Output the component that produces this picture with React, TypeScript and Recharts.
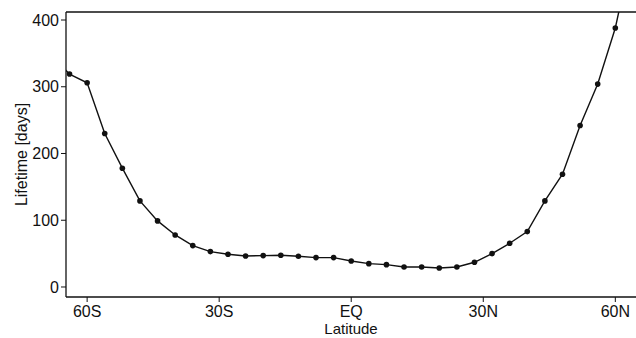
import { Label, Line, LineChart, ReferenceLine, XAxis, YAxis } from 'recharts'

// latitude in degrees, south negative
const latitudes = [
	-68, -64, -60, -56, -52, -48, -44, -40, -36, -32, -28, -24, -20, -16, -12, -8, -4, 0, 4, 8, 12, 16,
	20, 24, 28, 32, 36, 40, 44, 48, 52, 56, 60, 64,
]
const lifetimes = [
	345, 319, 306, 230, 178, 129, 99, 78, 62, 53, 49, 46.5, 47, 47.5, 46, 44, 44, 39, 35, 33.5, 30,
	30, 28.5, 30, 37, 50, 65.5, 83, 129, 169, 242, 304, 388, 510,
]
const latTicks = [-60, -30, 0, 30, 60]
const latTickLabels = ['60S', '30S', 'EQ', '30N', '60N']
const lifeTicks = [0, 100, 200, 300, 400]

const data = latitudes.map((lat, i) => ({ lat, life: lifetimes[i] }))

const font = '"Liberation Sans", Arial, Helvetica, sans-serif'
const tickStyle = { fill: '#111', fontSize: 16, fontFamily: font }

export default function App() {
	return (
		<div style={{ position: 'fixed', left: 0, top: 0, background: '#fff' }}>
			<LineChart
				data={data}
				height={338}
				margin={{ top: 12, right: 0, bottom: 0, left: 0 }}
				width={636}
			>
				<XAxis
					allowDataOverflow
					axisLine={{ stroke: '#111', strokeWidth: 1.3 }}
					dataKey="lat"
					domain={[-64.8, 64.7]}
					height={41}
					tick={tickStyle}
					tickFormatter={(v: number) => latTickLabels[latTicks.indexOf(v)] ?? ''}
					tickLine={{ stroke: '#111' }}
					tickMargin={4}
					tickSize={5}
					ticks={latTicks}
					type="number"
				>
					<Label
						fill="#111"
						fontFamily={font}
						fontSize={15}
						offset={4}
						position="insideBottom"
						value="Latitude"
					/>
				</XAxis>
				<YAxis
					allowDataOverflow
					axisLine={{ stroke: '#111', strokeWidth: 1.3 }}
					domain={[-15, 412]}
					tick={tickStyle}
					tickLine={{ stroke: '#111' }}
					tickMargin={2}
					tickSize={5}
					ticks={lifeTicks}
					type="number"
					width={66}
				>
					<Label
						angle={-90}
						fill="#111"
						fontFamily={font}
						fontSize={16}
						offset={21}
						position="insideLeft"
						style={{ textAnchor: 'middle' }}
						value="Lifetime [days]"
					/>
				</YAxis>
				<ReferenceLine
					stroke="#111"
					strokeWidth={1.3}
					y={412}
				/>
				<Line
					dataKey="life"
					dot={{ r: 2.8, fill: '#111', stroke: '#111', strokeWidth: 0 }}
					isAnimationActive={false}
					stroke="#111"
					strokeWidth={1.4}
					type="linear"
				/>
			</LineChart>
		</div>
	)
}
